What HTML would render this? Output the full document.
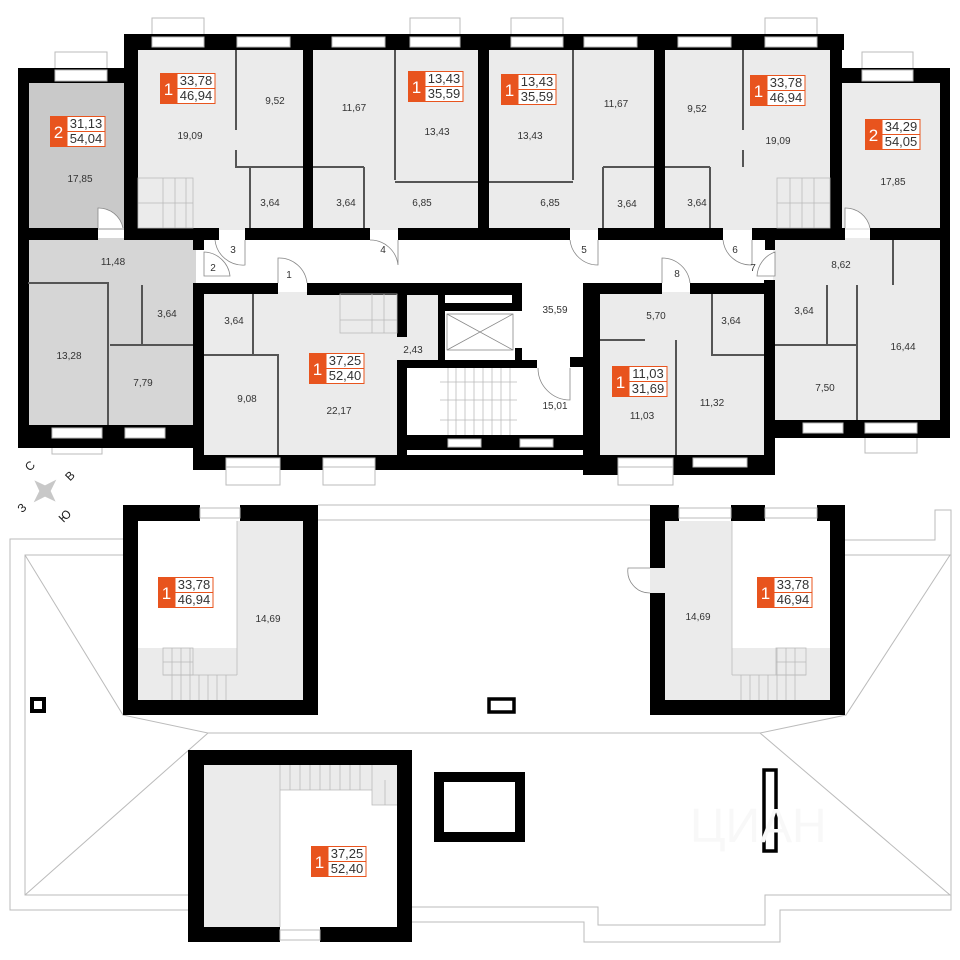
<!DOCTYPE html>
<html><head><meta charset="utf-8"><style>
html,body{margin:0;padding:0;background:#fff;}
svg{display:block;}
text{font-family:"Liberation Sans","DejaVu Sans",sans-serif;}
.l{font-size:10px;fill:#333;text-anchor:middle;}
.bn{font-size:17px;fill:#fff;text-anchor:middle;}
.bv{font-size:13px;fill:#333;text-anchor:middle;}
.w{fill:#000;}
.t{stroke:#555;stroke-width:2;fill:none;}
.r{stroke:#bbb;stroke-width:1;fill:none;}
.win{fill:#fff;stroke:#bbb;stroke-width:1;}
.st{stroke:#bbb;stroke-width:0.8;fill:none;}
.dr{stroke:#888;stroke-width:0.8;fill:#fff;}
</style></head><body>
<svg width="960" height="960" viewBox="0 0 960 960" xmlns="http://www.w3.org/2000/svg">
<defs>
<g id="badge">
<rect x="0" y="0" width="17" height="31" fill="#e8541e"/>
<rect x="17" y="0.5" width="38" height="30" fill="#fff" stroke="#e8541e" stroke-width="1"/>
<line x1="17" y1="15.5" x2="55" y2="15.5" stroke="#e8541e" stroke-width="1"/>
</g>
</defs>

<rect x="28" y="83" width="102" height="147" fill="#c9c9c9"/>
<rect x="28" y="238" width="168" height="190" fill="#d6d6d6"/>
<rect x="136" y="48" width="700" height="182" fill="#ebebeb"/>
<rect x="840" y="83" width="102" height="147" fill="#ebebeb"/>
<rect x="773" y="238" width="169" height="185" fill="#ebebeb"/>
<rect x="202" y="292" width="197" height="165" fill="#ebebeb"/>
<rect x="397" y="293" width="43" height="67" fill="#ebebeb"/>
<rect x="598" y="292" width="168" height="165" fill="#ebebeb"/>

<rect class="win" x="152" y="18" width="52" height="18"/>
<rect class="win" x="410" y="18" width="50" height="18"/>
<rect class="win" x="511" y="18" width="52" height="18"/>
<rect class="win" x="765" y="18" width="52" height="18"/>
<rect class="win" x="55" y="52" width="52" height="18"/>
<rect class="win" x="862" y="52" width="51" height="18"/>
<rect class="win" x="52" y="440" width="50" height="14"/>
<rect class="win" x="865" y="432" width="52" height="21"/>

<rect class="w" x="124" y="34" width="720" height="16"/>
<rect class="win" x="152" y="37" width="52" height="10"/>
<rect class="win" x="237" y="37" width="53" height="10"/>
<rect class="win" x="332" y="37" width="53" height="10"/>
<rect class="win" x="410" y="37" width="50" height="10"/>
<rect class="win" x="511" y="37" width="52" height="10"/>
<rect class="win" x="584" y="37" width="53" height="10"/>
<rect class="win" x="678" y="37" width="53" height="10"/>
<rect class="win" x="765" y="37" width="52" height="10"/>
<rect class="w" x="124" y="34" width="14" height="206"/>
<rect class="w" x="303" y="34" width="10" height="206"/>
<rect class="w" x="478" y="34" width="11" height="206"/>
<rect class="w" x="654" y="34" width="11" height="206"/>
<rect class="w" x="830" y="34" width="12" height="206"/>
<rect class="w" x="18" y="68" width="120" height="15"/>
<rect class="win" x="55" y="70" width="52" height="11"/>
<rect class="w" x="18" y="68" width="11" height="380"/>
<rect class="w" x="18" y="228" width="80" height="12"/>
<rect class="w" x="125" y="228" width="90" height="12"/>
<rect class="w" x="18" y="425" width="180" height="23"/>
<rect class="win" x="52" y="428" width="50" height="10"/>
<rect class="win" x="125" y="428" width="40" height="10"/>
<rect class="w" x="830" y="68" width="120" height="15"/>
<rect class="win" x="862" y="70" width="51" height="11"/>
<rect class="w" x="940" y="68" width="10" height="370"/>
<rect class="w" x="765" y="228" width="80" height="12"/>
<rect class="w" x="870" y="228" width="80" height="12"/>
<rect class="w" x="765" y="420" width="185" height="18"/>
<rect class="win" x="803" y="423" width="40" height="10"/>
<rect class="win" x="865" y="423" width="52" height="10"/>
<rect class="w" x="124" y="228" width="95" height="12"/>
<rect class="w" x="245" y="228" width="125" height="12"/>
<rect class="w" x="398" y="228" width="172" height="12"/>
<rect class="w" x="598" y="228" width="125" height="12"/>
<rect class="w" x="752" y="228" width="90" height="12"/>
<rect class="w" x="193" y="240" width="11" height="10"/>
<rect class="w" x="765" y="240" width="10" height="10"/>

<rect class="w" x="193" y="283" width="85" height="11"/>
<rect class="w" x="307" y="283" width="215" height="12"/>
<rect class="w" x="193" y="283" width="11" height="187"/>
<rect class="w" x="397" y="283" width="10" height="54"/>
<rect class="w" x="397" y="360" width="10" height="100"/>
<rect class="w" x="193" y="455" width="400" height="15"/>
<rect class="win" x="226" y="458" width="54" height="9"/>
<rect class="win" x="323" y="458" width="52" height="9"/>
<rect class="w" x="397" y="435" width="196" height="15"/>
<rect class="win" x="448" y="439" width="33" height="8"/>
<rect class="win" x="520" y="439" width="33" height="8"/>
<rect class="w" x="397" y="450" width="10" height="20"/>
<rect class="w" x="583" y="450" width="10" height="20"/>
<rect class="w" x="438" y="295" width="7" height="70"/>
<rect x="447" y="297" width="68" height="8" fill="#fff"/>
<rect class="w" x="445" y="303" width="77" height="8"/>
<rect class="w" x="512" y="283" width="10" height="28"/>
<rect class="w" x="515" y="348" width="7" height="12"/>
<rect x="447" y="314" width="66" height="36" fill="#fff" stroke="#888" stroke-width="0.8"/>
<path d="M447 314 L513 350 M513 314 L447 350" stroke="#888" stroke-width="0.8"/>
<rect class="w" x="397" y="360" width="140" height="8"/>
<rect class="w" x="570" y="357" width="22" height="10"/>
<rect x="440" y="368" width="77" height="67" fill="#fff"/>
<g class="st">
<path d="M440 382 H517 M440 400 H517 M440 420 H517"/>
<path d="M448 368 V435 M456 368 V435 M465 368 V435 M474 368 V435 M483 368 V435 M492 368 V435 M501 368 V435 M510 368 V435"/>
</g>
<path d="M538 368 A32 32 0 0 0 570 400 V368" class="dr"/>

<rect class="w" x="590" y="283" width="72" height="11"/>
<rect class="w" x="690" y="283" width="85" height="11"/>
<rect class="w" x="583" y="283" width="17" height="192"/>
<rect class="w" x="764" y="280" width="11" height="195"/>
<rect class="w" x="583" y="455" width="192" height="20"/>
<rect class="win" x="618" y="458" width="55" height="9"/>
<rect class="win" x="693" y="458" width="54" height="9"/>
<rect class="win" x="618" y="467" width="55" height="18"/>
<rect class="win" x="226" y="467" width="54" height="18"/>
<rect class="win" x="323" y="467" width="52" height="18"/>

<g class="t">
<path d="M236 50 V130 M236 150 V167 H303"/>
<path d="M250 167 V228"/>
<path d="M395 50 V180 M395 182 H478"/>
<path d="M364 167 V228 M313 167 H364"/>
<path d="M573 50 V180 M489 182 H573"/>
<path d="M603 167 V228 M603 167 H654"/>
<path d="M743 50 V130 M743 150 V167 M665 167 H710 M710 167 V228"/>
<path d="M28 283 H108 V425"/>
<path d="M142 285 V345 H193 M110 345 H193"/>
<path d="M204 355 H253 V294 M253 355 H278 V455"/>
<path d="M600 340 H645 M676 340 V455 M712 294 V355 H764"/>
<path d="M857 285 V420 M893 240 V285 M775 345 H857 M827 285 V345"/>
</g>
<g class="dr">
<path d="M215 240 A28 28 0 0 0 245 265 V240"/>
<path d="M370 240 A28 28 0 0 1 398 265 V240" />
<path d="M570 240 A28 28 0 0 0 598 265 V240"/>
<path d="M723 240 A28 28 0 0 0 752 265 V240"/>
<path d="M204 252 A27 27 0 0 1 230 276 H204 Z"/>
<path d="M775 252 A27 27 0 0 0 757 276 H775 Z"/>
<path d="M278 283 V258 A28 28 0 0 1 307 283"/>
<path d="M662 283 V258 A28 28 0 0 1 690 283"/>
<path d="M98 228 V208 A25 25 0 0 1 123 228"/>
<path d="M845 228 V208 A25 25 0 0 1 870 228"/>
</g>
<g class="st">
<rect x="138" y="178" width="55" height="50"/>
<path d="M163 178 V228 M175 178 V228 M186 178 V228 M138 203 H193"/>
<rect x="777" y="178" width="53" height="50"/>
<path d="M790 178 V228 M802 178 V228 M814 178 V228 M777 203 H830"/>
<rect x="340" y="294" width="57" height="39"/>
<path d="M372 294 V333 M384 294 V333 M340 320 H397"/>
</g>

<g class="l">
<text x="80" y="182">17,85</text><text x="190" y="139">19,09</text><text x="275" y="104">9,52</text>
<text x="354" y="111">11,67</text><text x="437" y="135">13,43</text><text x="270" y="206">3,64</text>
<text x="346" y="206">3,64</text><text x="422" y="206">6,85</text><text x="530" y="139">13,43</text>
<text x="616" y="107">11,67</text><text x="697" y="112">9,52</text><text x="778" y="144">19,09</text>
<text x="893" y="185">17,85</text><text x="550" y="206">6,85</text><text x="627" y="207">3,64</text>
<text x="697" y="206">3,64</text><text x="113" y="265">11,48</text><text x="167" y="317">3,64</text>
<text x="69" y="359">13,28</text><text x="143" y="386">7,79</text><text x="234" y="324">3,64</text>
<text x="247" y="402">9,08</text><text x="339" y="414">22,17</text><text x="413" y="353">2,43</text>
<text x="555" y="313">35,59</text><text x="555" y="409">15,01</text><text x="656" y="319">5,70</text>
<text x="731" y="324">3,64</text><text x="642" y="419">11,03</text><text x="712" y="406">11,32</text>
<text x="841" y="268">8,62</text><text x="804" y="314">3,64</text><text x="903" y="350">16,44</text>
<text x="825" y="391">7,50</text>
<text x="289" y="278">1</text><text x="213" y="271">2</text><text x="233" y="253">3</text>
<text x="383" y="253">4</text><text x="584" y="253">5</text><text x="735" y="253">6</text>
<text x="753" y="271">7</text><text x="677" y="277">8</text>
</g>

<path d="M45 475 L49 487 L60 491 L49 495 L45 507 L41 495 L30 491 L41 487 Z" fill="#c8c8c8" transform="rotate(45 45 491)"/>
<g font-size="12" fill="#222" text-anchor="middle">
<text x="30" y="470" transform="rotate(-45 30 466)">С</text>
<text x="70" y="480" transform="rotate(-45 70 476)">В</text>
<text x="22" y="512" transform="rotate(-45 22 508)">З</text>
<text x="65" y="520" transform="rotate(-45 65 516)">Ю</text>
</g>

<g class="r">
<path d="M123 539 H10 V910 H188"/>
<path d="M123 555 H25 V895 H188"/>
<path d="M318 505 H650 M318 520 H650"/>
<path d="M25 555 L123 715 L208 733 L25 895"/>
<path d="M208 733 H760"/>
<path d="M845 540 H935 V510 H951 V910 H780 V942 H584 V922 H412"/>
<path d="M845 555 H950 L846 715 L760 733 L950 895 H765 V925 H598 V907 H412"/>
</g>
<rect x="138" y="521" width="165" height="179" fill="#fff"/>
<rect x="237" y="521" width="66" height="179" fill="#ebebeb"/>
<rect x="138" y="648" width="99" height="52" fill="#ebebeb"/>
<path d="M123 505 H200 V521 H138 V700 H303 V521 H240 V505 H318 V715 H123 Z" class="w"/>
<rect class="win" x="200" y="508" width="40" height="10"/>
<g class="st"><rect x="163" y="648" width="30" height="27"/><path d="M163 675 H237 M163 662 H193 M172 648 V700 M181 648 V700 M190 648 V700 M199 675 V700 M208 675 V700 M217 675 V700 M226 675 V700"/><path d="M237 521 V675"/></g>
<text class="l" x="268" y="622">14,69</text>
<rect x="665" y="521" width="165" height="179" fill="#fff"/>
<rect x="665" y="521" width="67" height="179" fill="#ebebeb"/>
<rect x="732" y="648" width="98" height="52" fill="#ebebeb"/>
<path d="M650 505 H679 V521 H665 V700 H830 V521 H817 V505 H845 V715 H650 Z" class="w"/>
<rect class="w" x="731" y="505" width="34" height="16"/>
<rect class="win" x="679" y="508" width="52" height="10"/>
<rect class="win" x="765" y="508" width="52" height="10"/>
<rect x="650" y="568" width="18" height="25" fill="#ebebeb"/>
<path d="M650 568 H628 A22 22 0 0 0 650 593" class="dr"/>
<g class="st"><rect x="776" y="648" width="30" height="27"/><path d="M732 675 H806 M776 662 H806 M741 675 V700 M750 675 V700 M759 675 V700 M768 675 V700 M777 648 V700 M786 648 V700 M795 648 V700"/><path d="M732 521 V675"/></g>
<text class="l" x="698" y="620">14,69</text>
<rect x="204" y="765" width="193" height="162" fill="#fff"/>
<rect x="204" y="765" width="76" height="162" fill="#ebebeb"/>
<rect x="280" y="765" width="117" height="25" fill="#ebebeb"/>
<rect x="372" y="790" width="25" height="15" fill="#ebebeb"/>
<path d="M188 750 H412 V942 H320 V927 H397 V765 H204 V927 H280 V942 H188 Z" class="w"/>
<rect class="win" x="280" y="930" width="40" height="10"/>
<g class="st"><path d="M280 790 H372 V805 H397 M280 765 V927 M290 765 V790 M300 765 V790 M310 765 V790 M320 765 V790 M330 765 V790 M340 765 V790 M350 765 V790 M360 765 V790 M372 765 V790 M385 780 V805"/></g>
<rect x="439" y="777" width="81" height="60" fill="none" stroke="#000" stroke-width="10"/>
<rect x="32" y="699" width="12" height="12" fill="none" stroke="#000" stroke-width="4"/>
<rect x="489" y="699" width="25" height="13" fill="none" stroke="#000" stroke-width="3.5"/>
<rect x="764" y="770" width="12" height="81" fill="none" stroke="#000" stroke-width="3.5"/>

<text x="690" y="842" font-size="48" fill="#f8f8f8" font-family="Liberation Sans,sans-serif">ЦИАН</text>

<g>
<use href="#badge" x="160" y="73"/><text class="bn" x="168.5" y="95">1</text><text class="bv" x="196" y="85">33,78</text><text class="bv" x="196" y="100">46,94</text>
<use href="#badge" x="408" y="71"/><text class="bn" x="416.5" y="93">1</text><text class="bv" x="444" y="83">13,43</text><text class="bv" x="444" y="98">35,59</text>
<use href="#badge" x="501" y="74"/><text class="bn" x="509.5" y="96">1</text><text class="bv" x="537" y="86">13,43</text><text class="bv" x="537" y="101">35,59</text>
<use href="#badge" x="750" y="75"/><text class="bn" x="758.5" y="97">1</text><text class="bv" x="786" y="87">33,78</text><text class="bv" x="786" y="102">46,94</text>
<use href="#badge" x="865" y="119"/><text class="bn" x="873.5" y="141">2</text><text class="bv" x="901" y="131">34,29</text><text class="bv" x="901" y="146">54,05</text>
<use href="#badge" x="50" y="116"/><text class="bn" x="58.5" y="138">2</text><text class="bv" x="86" y="128">31,13</text><text class="bv" x="86" y="143">54,04</text>
<use href="#badge" x="309" y="353"/><text class="bn" x="317.5" y="375">1</text><text class="bv" x="345" y="365">37,25</text><text class="bv" x="345" y="380">52,40</text>
<use href="#badge" x="612" y="366"/><text class="bn" x="620.5" y="388">1</text><text class="bv" x="648" y="378">11,03</text><text class="bv" x="648" y="393">31,69</text>
<use href="#badge" x="158" y="577"/><text class="bn" x="166.5" y="599">1</text><text class="bv" x="194" y="589">33,78</text><text class="bv" x="194" y="604">46,94</text>
<use href="#badge" x="757" y="577"/><text class="bn" x="765.5" y="599">1</text><text class="bv" x="793" y="589">33,78</text><text class="bv" x="793" y="604">46,94</text>
<use href="#badge" x="311" y="846"/><text class="bn" x="319.5" y="868">1</text><text class="bv" x="347" y="858">37,25</text><text class="bv" x="347" y="873">52,40</text>
</g>
</svg>
</body></html>
